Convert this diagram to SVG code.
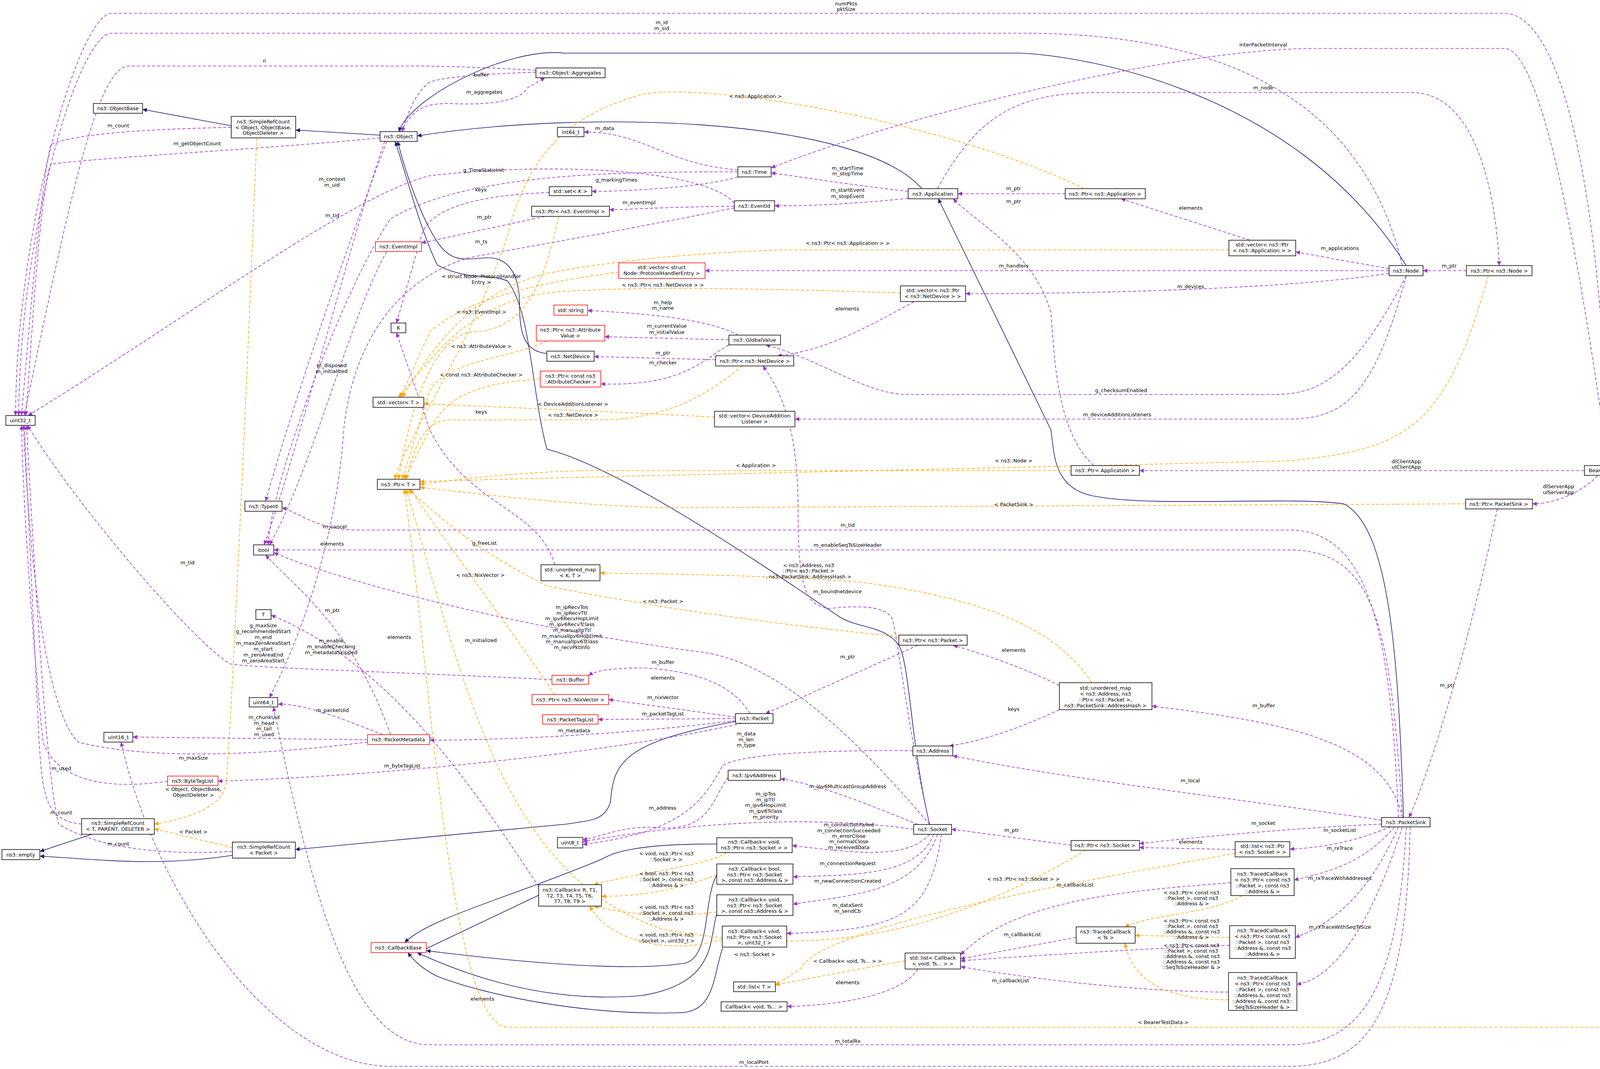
<svg xmlns="http://www.w3.org/2000/svg" width="4717" height="2737" viewBox="0 0 4717 2737">
<style>
text{font-family:"DejaVu Sans","Liberation Sans",sans-serif;font-size:13px;fill:#000}
.n rect{fill:#fff;stroke:#000;stroke-width:1.5}
.n.r rect{stroke:#f00}
.n.g rect{fill:#bfbfbf;stroke:#000}
.n text{text-anchor:middle}
.l text{text-anchor:middle}
.e{fill:none;stroke:#9a32cd;stroke-width:1.6;stroke-dasharray:8,5}
.o{fill:none;stroke:#ffa500;stroke-width:1.6;stroke-dasharray:8,5}
.s{fill:none;stroke:#191970;stroke-width:1.6}
</style>
<defs>
<marker id="mp" viewBox="0 0 10 10" refX="10" refY="5" markerWidth="11" markerHeight="11" markerUnits="userSpaceOnUse" orient="auto"><path d="M0,0L10,5L0,10z" fill="#9a32cd"/></marker>
<marker id="mo" viewBox="0 0 10 10" refX="10" refY="5" markerWidth="11" markerHeight="11" markerUnits="userSpaceOnUse" orient="auto"><path d="M0,0L10,5L0,10z" fill="#ffa500"/></marker>
<marker id="ms" viewBox="0 0 10 10" refX="10" refY="5" markerWidth="11" markerHeight="11" markerUnits="userSpaceOnUse" orient="auto"><path d="M0,0L10,5L0,10z" fill="#191970"/></marker>
</defs>
<rect width="4717" height="2737" fill="#fff"/>
<g id="edges">
<g marker-end="url(#ms)">
<path class="s" d="M592,322L365,280"/>
<path class="s" d="M973,346L757,333"/>
<path class="s" d="M2360,483C2200,300 1500,280 1068,348"/>
<path class="s" d="M3600,680C3300,200 2700,136 2604,136L1444,136C1300,120 1050,250 1021,337"/>
<path class="s" d="M1400,905C1340,900 1330,850 1330,780C1330,700 1300,660 1250,660C1200,660 1160,680 1120,620C1080,560 1040,450 1018,362"/>
<path class="s" d="M2380,2111C2330,1900 2330,1700 2300,1650C2260,1600 2200,1610 2150,1580C2000,1480 1600,1200 1400,1150C1360,1000 1360,800 1300,720C1260,700 1200,720 1120,679C1080,600 1040,450 1012,362"/>
<path class="s" d="M3593,2093C3580,1700 3560,1350 3440,1290C3300,1270 2950,1300 2800,1270C2690,1250 2700,1150 2690,1100L2402,509"/>
<path class="s" d="M1883,1847C1600,1900 1570,1950 1563,2052C1550,2100 1515,2100 1450,2110L756,2175"/>
<path class="s" d="M595,2190C400,2220 250,2200 102,2192"/>
<path class="s" d="M235,2136L102,2180"/>
<path class="s" d="M1379,2292L1070,2439"/>
<path class="s" d="M1835,2161C1600,2160 1560,2190 1540,2200C1300,2300 1100,2350 1036,2413"/>
<path class="s" d="M1835,2240C1800,2300 1820,2450 1754,2466C1600,2490 1300,2460 1091,2434"/>
<path class="s" d="M1835,2340C1815,2400 1840,2518 1642,2549C1400,2570 1200,2500 1068,2439"/>
<path class="s" d="M1850,2427C1825,2500 1830,2593 1738,2593C1500,2600 1250,2550 1120,2500C1080,2480 1060,2460 1044,2439"/>
</g>
<g marker-end="url(#mp)">
<path class="e" d="M1372,185C1200,190 1130,200 1100,210C1060,240 1040,300 1030,337"/>
<path class="e" d="M1025,337C1060,280 1080,265 1150,265C1250,270 1330,260 1350,225L1395,199"/>
<path class="e" d="M1372,180C1200,170 1100,169 1040,169L330,169C250,169 180,500 62,1064"/>
<path class="e" d="M592,326C400,330 200,340 130,370C100,500 70,900 55,1064"/>
<path class="e" d="M973,353C700,380 300,400 130,420C100,500 80,900 66,1064"/>
<path class="e" d="M1880,520C1800,430 1400,415 1100,450C900,500 500,800 72,1064"/>
<path class="e" d="M1889,440C1600,440 1200,440 1000,560C900,700 700,1200 686,1395"/>
<path class="e" d="M1406,493C1200,500 1100,540 1080,600L1015,827"/>
<path class="e" d="M1395,554L1079,622"/>
<path class="e" d="M1880,532C1600,590 1300,640 1200,660C1000,720 900,900 880,1100C860,1400 760,1650 690,1786"/>
<path class="e" d="M990,362C900,600 760,1000 680,1283"/>
<path class="e" d="M985,362C900,600 750,1200 676,1395"/>
<path class="e" d="M1889,435C1700,420 1650,338 1495,338"/>
<path class="e" d="M1889,453C1800,480 1600,490 1515,490"/>
<path class="e" d="M1880,528C1700,530 1600,537 1560,537"/>
<path class="e" d="M2325,490C2150,470 2000,445 1974,443"/>
<path class="e" d="M2325,508C2200,520 2100,527 1983,527"/>
<path class="e" d="M2727,496L2452,496"/>
<path class="e" d="M2800,1192C2700,1100 2700,900 2690,800C2650,650 2500,570 2440,509"/>
<path class="e" d="M3556,693L1805,693"/>
<path class="e" d="M3556,700C3300,740 2800,752 2472,752"/>
<path class="e" d="M2340,772C2200,850 2100,900 1990,911"/>
<path class="e" d="M1890,858C1800,810 1600,800 1504,795"/>
<path class="e" d="M1866,870L1548,862"/>
<path class="e" d="M1832,921L1521,913"/>
<path class="e" d="M1866,883C1800,920 1750,990 1538,983"/>
<path class="e" d="M3600,706C3450,1000 3350,1010 3250,1010L2310,1010C2200,1000 2100,920 1960,883"/>
<path class="e" d="M3600,706C3520,1000 3450,1073 3300,1073L2035,1073"/>
<path class="e" d="M2380,2111C2330,1900 2300,1650 2285,1587C2270,1550 2200,1550 2122,1558C2060,1550 2043,1500 2043,1300C2043,1100 2000,1000 1953,937"/>
<path class="e" d="M3556,688L3317,645"/>
<path class="e" d="M3200,615L2870,509"/>
<path class="e" d="M3754,693L3643,693"/>
<path class="e" d="M2400,483C2500,300 2600,237 2810,237L3614,237C3780,237 3830,500 3838,680"/>
<path class="e" d="M4117,1192C4050,700 3950,124 3851,124L3369,124C3000,124 2300,300 1974,430"/>
<path class="e" d="M4117,1192C4100,500 4000,34 3851,34L286,34C200,34 40,600 40,1064"/>
<path class="e" d="M3590,680C3500,300 3200,85 2617,85L286,85C200,85 50,600 48,1064"/>
<path class="e" d="M4056,1205L2917,1205"/>
<path class="e" d="M4090,1218C4050,1260 3980,1290 3923,1290"/>
<path class="e" d="M4300,2248C4250,1800 4150,1300 4130,1218"/>
<path class="e" d="M4615,2260L4511,2260"/>
<path class="e" d="M3833,1303C3750,1700 3650,2000 3607,2093"/>
<path class="e" d="M3590,2093C3550,1900 3300,1850 2949,1808"/>
<path class="e" d="M3537,2100C3200,2050 2700,1990 2439,1935"/>
<path class="e" d="M3537,2110C3300,2120 3000,2150 2917,2160"/>
<path class="e" d="M3560,2117C3480,2150 3400,2170 3302,2174"/>
<path class="e" d="M3162,2175L2917,2170"/>
<path class="e" d="M3570,2117C3500,2200 3420,2230 3313,2253"/>
<path class="e" d="M3580,2117C3500,2300 3400,2370 3316,2400"/>
<path class="e" d="M3590,2117C3500,2400 3400,2510 3320,2520"/>
<path class="e" d="M3151,2260C2900,2280 2600,2300 2459,2445"/>
<path class="e" d="M3148,2420C2900,2430 2600,2450 2459,2460"/>
<path class="e" d="M3145,2540C2900,2540 2600,2500 2459,2475"/>
<path class="e" d="M2755,2400L2459,2455"/>
<path class="e" d="M2350,2481C2300,2560 2100,2575 2015,2577"/>
<path class="e" d="M2742,2164L2436,2123"/>
<path class="e" d="M2380,2136C2320,2200 2200,2185 2028,2165"/>
<path class="e" d="M2390,2136C2350,2240 2200,2240 2030,2245"/>
<path class="e" d="M2400,2136C2350,2280 2200,2290 2030,2315"/>
<path class="e" d="M2410,2136C2380,2350 2300,2380 2014,2390"/>
<path class="e" d="M2350,2111C2200,2050 2100,2010 1998,1994"/>
<path class="e" d="M2339,2123C2100,2090 1800,2100 1492,2155"/>
<path class="e" d="M1864,1990C1820,2050 1820,2120 1700,2120C1600,2110 1550,2140 1492,2150"/>
<path class="e" d="M2337,1922C2100,1920 1900,1930 1850,1960C1800,2050 1750,2130 1492,2162"/>
<path class="e" d="M1920,1827C1880,1760 1800,1720 1650,1710C1550,1710 1520,1720 1507,1730"/>
<path class="e" d="M1883,1836L1558,1791"/>
<path class="e" d="M1883,1840L1531,1842"/>
<path class="e" d="M1883,1845C1600,1880 1300,1895 1100,1895"/>
<path class="e" d="M1900,1852C1500,1940 900,1990 558,2000"/>
<path class="e" d="M2350,1652L1960,1827"/>
<path class="e" d="M2712,1755C2600,1700 2500,1670 2440,1652"/>
<path class="e" d="M2712,1817C2600,1870 2500,1900 2430,1910"/>
<path class="e" d="M941,1894L340,1887"/>
<path class="e" d="M980,1881C900,1850 780,1800 712,1803"/>
<path class="e" d="M941,1900C700,1930 400,1950 200,1900C100,1800 70,1300 60,1089"/>
<path class="e" d="M429,2000C300,2020 150,2010 110,1900C80,1600 60,1300 55,1089"/>
<path class="e" d="M1000,1881C900,1600 750,1500 680,1421"/>
<path class="e" d="M1413,1740C1000,1720 650,1710 590,1700C500,1650 200,1300 70,1089"/>
<path class="e" d="M209,2110C120,2100 110,2050 100,1900L62,1089"/>
<path class="e" d="M595,2180C400,2190 250,2170 150,2110C120,2000 90,1500 68,1089"/>
<path class="e" d="M1420,1446C1380,1300 1200,1300 1100,1100L1015,852"/>
<path class="e" d="M3580,2093C3560,1600 3500,1357 3300,1357L900,1357C800,1350 760,1310 722,1300"/>
<path class="e" d="M3590,2093C3560,1600 3520,1408 3300,1408L701,1408"/>
<path class="e" d="M3600,2117C3580,2500 3500,2675 3300,2675L1100,2675C900,2675 800,2300 700,1810"/>
<path class="e" d="M3610,2117C3600,2600 3500,2730 3300,2730L1000,2730C700,2730 400,2300 310,1900"/>
<path class="e" d="M2380,2111C2200,1900 2000,1700 1800,1670C1400,1620 900,1500 701,1415"/>
<path class="e" d="M990,644C900,800 800,1200 690,1395"/>
<path class="e" d="M1379,2270C1200,2000 1000,1700 694,1575"/>
</g>
<g marker-end="url(#mo)">
<path class="o" d="M2775,483C2400,300 1750,200 1625,247C1450,300 1350,400 1300,600C1200,900 1050,1100 1010,1227"/>
<path class="o" d="M1430,554C1380,800 1300,850 1200,850C1100,880 1050,1050 1020,1227"/>
<path class="o" d="M3146,640L2000,640C1700,650 1500,680 1400,700C1200,750 1100,900 1030,1017"/>
<path class="o" d="M1584,697C1400,720 1200,760 1100,850L1025,1017"/>
<path class="o" d="M2305,750C2000,740 1600,730 1400,750C1200,780 1120,900 1020,1017"/>
<path class="o" d="M1400,873C1300,920 1150,920 1100,1000L1030,1227"/>
<path class="o" d="M1383,970C1250,980 1150,1000 1100,1100L1035,1227"/>
<path class="o" d="M1829,1068C1500,1050 1200,1040 1085,1033"/>
<path class="o" d="M1900,937C1800,1020 1700,1070 1550,1075L1150,1075C1080,1080 1060,1150 1040,1227"/>
<path class="o" d="M3810,706C3700,1100 3600,1150 3300,1180C2500,1200 1500,1220 1075,1233"/>
<path class="o" d="M2742,1205L1500,1205C1300,1210 1150,1230 1075,1240"/>
<path class="o" d="M3752,1290L1700,1300C1400,1290 1200,1260 1075,1248"/>
<path class="o" d="M2301,1630C2000,1600 1700,1560 1400,1500C1200,1400 1100,1300 1045,1253"/>
<path class="o" d="M2795,1748C2700,1600 2500,1530 2200,1490C1900,1470 1700,1470 1536,1467"/>
<path class="o" d="M1420,1778C1300,1600 1150,1400 1050,1253"/>
<path class="o" d="M2317,2460C2200,2480 2100,2500 1985,2522"/>
<path class="o" d="M3162,2185C2800,2250 2100,2370 2050,2480L1985,2522"/>
<path class="o" d="M2780,2177C2400,2400 2100,2450 1700,2380C1300,2250 1200,1800 1040,1253"/>
<path class="o" d="M1860,2183C1800,2220 1650,2230 1520,2265"/>
<path class="o" d="M1835,2240C1700,2290 1600,2295 1540,2295"/>
<path class="o" d="M1835,2335C1700,2350 1600,2340 1520,2320"/>
<path class="o" d="M1849,2405C1700,2450 1550,2400 1510,2320"/>
<path class="o" d="M657,353C640,800 600,1700 580,2000C570,2080 450,2100 395,2110"/>
<path class="o" d="M595,2170L395,2122"/>
<path class="o" d="M3180,2293C3100,2340 2950,2340 2880,2373"/>
<path class="o" d="M3148,2400L2906,2395"/>
<path class="o" d="M3145,2560C3000,2560 2900,2520 2880,2415"/>
<path class="o" d="M4400,2273C4350,2500 4300,2630 4150,2630L1300,2630C1150,2630 1100,1700 1035,1253"/>
</g>
<g class="l">
<text x="1232" y="196">buffer</text><text x="1240" y="240">m_aggregates</text><text x="677" y="160">n</text>
<text x="303" y="326">m_count</text><text x="505" y="372">m_getObjectCount</text>
<text x="850" y="463">m_context</text><text x="850" y="478">m_uid</text>
<text x="1238" y="440">g_TimeStaticInit</text><text x="1231" y="490">keys</text><text x="1240" y="560">m_ptr</text>
<text x="1232" y="623">m_ts</text><text x="851" y="556">m_tid</text>
<text x="849" y="940">m_disposed</text><text x="849" y="955">m_initialized</text>
<text x="1548" y="333">m_data</text><text x="1578" y="465">g_markingTimes</text><text x="1636" y="523">m_eventImpl</text>
<text x="2170" y="435">m_startTime</text><text x="2170" y="449">m_stopTime</text>
<text x="2170" y="491">m_startEvent</text><text x="2170" y="507">m_stopEvent</text>
<text x="2595" y="487">m_ptr</text><text x="2595" y="520">m_ptr</text><text x="2595" y="685">m_handlers</text>
<text x="3048" y="738">m_devices</text><text x="2169" y="795">elements</text>
<text x="1697" y="779">m_help</text><text x="1697" y="793">m_name</text>
<text x="1707" y="839">m_currentValue</text><text x="1707" y="855">m_initialValue</text>
<text x="1697" y="908">m_ptr</text><text x="1697" y="933">m_checker</text>
<text x="2870" y="1004">g_checksumEnabled</text><text x="2860" y="1066">m_deviceAdditionListeners</text>
<text x="2144" y="1519">m_boundnetdevice</text><text x="3430" y="640">m_applications</text><text x="3048" y="537">elements</text>
<text x="3710" y="685">m_ptr</text><text x="3234" y="229">m_node</text><text x="3234" y="119">interPacketInterval</text>
<text x="2166" y="14">numPkts</text><text x="2166" y="28">pktSize</text>
<text x="1694" y="62">m_id</text><text x="1694" y="77">m_sid</text>
<text x="3600" y="1186">dlClientApp</text><text x="3600" y="1200">ulClientApp</text>
<text x="3990" y="1250">dlServerApp</text><text x="3990" y="1265">ulServerApp</text>
<text x="4238" y="1443">elements</text><text x="4563" y="2254">bearers</text><text x="3705" y="1759">m_ptr</text>
<text x="3235" y="1811">m_buffer</text><text x="3047" y="2003">m_local</text><text x="3234" y="2112">m_socket</text>
<text x="3430" y="2130">m_socketList</text><text x="3048" y="2160">elements</text><text x="3430" y="2176">m_rxTrace</text>
<text x="3430" y="2253">m_rxTraceWithAddresses</text><text x="3430" y="2378">m_rxTraceWithSeqTsSize</text>
<text x="2752" y="2270">m_callbackList</text><text x="2617" y="2397">m_callbackList</text><text x="2587" y="2515">m_callbackList</text>
<text x="2170" y="2520">elements</text><text x="2590" y="2130">m_ptr</text>
<text x="2173" y="2116">m_connectionFailed</text><text x="2173" y="2131">m_connectionSucceeded</text><text x="2173" y="2145">m_errorClose</text><text x="2173" y="2159">m_normalClose</text><text x="2173" y="2174">m_receivedData</text>
<text x="2170" y="2215">m_connectionRequest</text><text x="2170" y="2260">m_newConnectionCreated</text>
<text x="2170" y="2322">m_dataSent</text><text x="2170" y="2337">m_sendCb</text>
<text x="2170" y="2018">m_ipv6MulticastGroupAddress</text>
<text x="1960" y="2037">m_ipTos</text><text x="1960" y="2052">m_ipTtl</text><text x="1960" y="2066">m_ipv6HopLimit</text><text x="1960" y="2081">m_ipv6Tclass</text><text x="1960" y="2096">m_priority</text>
<text x="1696" y="2073">m_address</text>
<text x="1910" y="1883">m_data</text><text x="1910" y="1898">m_len</text><text x="1910" y="1912">m_type</text>
<text x="1697" y="1700">m_buffer</text><text x="1697" y="1740">elements</text><text x="1697" y="1790">m_nixVector</text><text x="1697" y="1832">m_packetTagList</text>
<text x="1470" y="1875">m_metadata</text><text x="1030" y="1965">m_byteTagList</text><text x="2170" y="1686">m_ptr</text>
<text x="2595" y="1669">elements</text><text x="2595" y="1820">keys</text>
<text x="676" y="1841">m_chunkUid</text><text x="676" y="1856">m_head</text><text x="676" y="1870">m_tail</text><text x="676" y="1885">m_used</text>
<text x="851" y="1823">m_packetUid</text><text x="495" y="1945">m_maxSize</text><text x="157" y="1972">m_used</text>
<text x="848" y="1645">m_enable</text><text x="848" y="1660">m_enableChecking</text><text x="848" y="1675">m_metadataSkipped</text>
<text x="674" y="1606">g_maxSize</text><text x="674" y="1621">g_recommendedStart</text><text x="674" y="1636">m_end</text><text x="674" y="1651">m_maxZeroAreaStart</text><text x="674" y="1666">m_start</text><text x="674" y="1681">m_zeroAreaEnd</text><text x="674" y="1696">m_zeroAreaStart</text>
<text x="157" y="2085">m_count</text><text x="303" y="2165">m_count</text><text x="1232" y="1059">keys</text>
<text x="2170" y="1349">m_tid</text><text x="2170" y="1400">m_enableSeqTsSizeHeader</text><text x="480" y="1445">m_tid</text>
<text x="2170" y="2670">m_totalRx</text><text x="1930" y="2724">m_localPort</text>
<text x="1464" y="1559">m_ipRecvTos</text><text x="1464" y="1574">m_ipRecvTtl</text><text x="1464" y="1588">m_ipv6RecvHopLimit</text><text x="1464" y="1603">m_ipv6RecvTclass</text><text x="1464" y="1618">m_manualIpTtl</text><text x="1464" y="1633">m_manualIpv6HopLimit</text><text x="1464" y="1647">m_manualIpv6Tclass</text><text x="1464" y="1662">m_recvPktInfo</text>
<text x="857" y="1353">m_cancel</text><text x="850" y="1397">elements</text><text x="851" y="1567">m_ptr</text><text x="1231" y="1644">m_initialized</text><text x="1022" y="1636">elements</text><text x="1240" y="1395">g_freeList</text><text x="1235" y="2562">elements</text>
<text x="1934" y="251">&lt; ns3::Application &gt;</text><text x="1232" y="803">&lt; ns3::EventImpl &gt;</text>
<text x="2170" y="627">&lt; ns3::Ptr&lt; ns3::Application &gt; &gt;</text>
<text x="1232" y="712">&lt; struct Node::ProtocolHandler</text><text x="1232" y="727">Entry &gt;</text>
<text x="1697" y="734">&lt; ns3::Ptr&lt; ns3::NetDevice &gt; &gt;</text><text x="1232" y="891">&lt; ns3::AttributeValue &gt;</text>
<text x="1232" y="964">&lt; const ns3::AttributeChecker &gt;</text><text x="1467" y="1039">&lt; DeviceAdditionListener &gt;</text>
<text x="1467" y="1067">&lt; ns3::NetDevice &gt;</text><text x="2595" y="1184">&lt; ns3::Node &gt;</text><text x="1935" y="1196">&lt; Application &gt;</text>
<text x="2595" y="1296">&lt; PacketSink &gt;</text><text x="1697" y="1544">&lt; ns3::Packet &gt;</text>
<text x="2070" y="1452">&lt; ns3::Address, ns3</text><text x="2070" y="1466">::Ptr&lt; ns3::Packet &gt;</text><text x="2070" y="1481">, ns3::PacketSink::AddressHash &gt;</text>
<text x="1230" y="1477">&lt; ns3::NixVector &gt;</text><text x="2170" y="2465">&lt; Callback&lt; void, Ts... &gt; &gt;</text>
<text x="2620" y="2255">&lt; ns3::Ptr&lt; ns3::Socket &gt; &gt;</text><text x="1932" y="2448">&lt; ns3::Socket &gt;</text>
<text x="1706" y="2190">&lt; void, ns3::Ptr&lt; ns3</text><text x="1706" y="2205">::Socket &gt; &gt;</text>
<text x="1706" y="2241">&lt; bool, ns3::Ptr&lt; ns3</text><text x="1706" y="2256">::Socket &gt;, const ns3</text><text x="1706" y="2271">::Address &amp; &gt;</text>
<text x="1706" y="2327">&lt; void, ns3::Ptr&lt; ns3</text><text x="1706" y="2342">::Socket &gt;, const ns3</text><text x="1706" y="2357">::Address &amp; &gt;</text>
<text x="1706" y="2398">&lt; void, ns3::Ptr&lt; ns3</text><text x="1706" y="2413">::Socket &gt;, uint32_t &gt;</text>
<text x="495" y="2025">&lt; Object, ObjectBase,</text><text x="495" y="2040">ObjectDeleter &gt;</text><text x="495" y="2134">&lt; Packet &gt;</text>
<text x="3050" y="2290">&lt; ns3::Ptr&lt; const ns3</text><text x="3050" y="2304">::Packet &gt;, const ns3</text><text x="3050" y="2318">::Address &amp; &gt;</text>
<text x="3050" y="2362">&lt; ns3::Ptr&lt; const ns3</text><text x="3050" y="2376">::Packet &gt;, const ns3</text><text x="3050" y="2390">::Address &amp;, const ns3</text><text x="3050" y="2404">::Address &amp; &gt;</text>
<text x="3050" y="2425">&lt; ns3::Ptr&lt; const ns3</text><text x="3050" y="2439">::Packet &gt;, const ns3</text><text x="3050" y="2453">::Address &amp;, const ns3</text><text x="3050" y="2467">::Address &amp;, const ns3</text><text x="3050" y="2481">::SeqTsSizeHeader &amp; &gt;</text>
<text x="2978" y="2622">&lt; BearerTestData &gt;</text>
</g>
</g>
<g id="n1" class="n"><rect x="239" y="265" width="126" height="25"/><text x="302" y="282">ns3::ObjectBase</text></g>
<g id="n2" class="n"><rect x="592" y="298" width="165" height="55"/><text x="674" y="316">ns3::SimpleRefCount<tspan x="674" dy="14.5">&lt; Object, ObjectBase,</tspan><tspan x="674" dy="14.5">ObjectDeleter &gt;</tspan></text></g>
<g id="n3" class="n"><rect x="973" y="337" width="95" height="25"/><text x="1020" y="354">ns3::Object</text></g>
<g id="n4" class="n"><rect x="1372" y="174" width="177" height="25"/><text x="1460" y="191">ns3::Object::Aggregates</text></g>
<g id="n5" class="n"><rect x="1427" y="326" width="68" height="24"/><text x="1461" y="343">int64_t</text></g>
<g id="n6" class="n"><rect x="1889" y="427" width="85" height="26"/><text x="1931" y="445">ns3::Time</text></g>
<g id="n7" class="n"><rect x="1406" y="478" width="109" height="23"/><text x="1460" y="494">std::set&lt; K &gt;</text></g>
<g id="n8" class="n"><rect x="1361" y="528" width="199" height="26"/><text x="1460" y="546">ns3::Ptr&lt; ns3::EventImpl &gt;</text></g>
<g id="n9" class="n"><rect x="1880" y="514" width="103" height="26"/><text x="1931" y="532">ns3::EventId</text></g>
<g id="n10" class="n"><rect x="2325" y="483" width="127" height="26"/><text x="2388" y="501">ns3::Application</text></g>
<g id="n11" class="n"><rect x="2727" y="483" width="205" height="26"/><text x="2829" y="501">ns3::Ptr&lt; ns3::Application &gt;</text></g>
<g id="n12" class="n r"><rect x="961" y="619" width="118" height="25"/><text x="1020" y="636">ns3::EventImpl</text></g>
<g id="n13" class="n r"><rect x="1584" y="673" width="221" height="40"/><text x="1694" y="689">std::vector&lt; struct<tspan x="1694" dy="14.5">Node::ProtocolHandlerEntry &gt;</tspan></text></g>
<g id="n14" class="n"><rect x="3146" y="615" width="171" height="40"/><text x="3231" y="631">std::vector&lt; ns3::Ptr<tspan x="3231" dy="14.5">&lt; ns3::Application &gt; &gt;</tspan></text></g>
<g id="n15" class="n"><rect x="3556" y="680" width="87" height="26"/><text x="3599" y="698">ns3::Node</text></g>
<g id="n16" class="n"><rect x="3754" y="680" width="168" height="26"/><text x="3838" y="698">ns3::Ptr&lt; ns3::Node &gt;</text></g>
<g id="n17" class="n"><rect x="2305" y="732" width="167" height="40"/><text x="2388" y="748">std::vector&lt; ns3::Ptr<tspan x="2388" dy="14.5">&lt; ns3::NetDevice &gt; &gt;</tspan></text></g>
<g id="n18" class="n r"><rect x="1418" y="781" width="86" height="26"/><text x="1461" y="799">std::string</text></g>
<g id="n19" class="n"><rect x="1001" y="827" width="38" height="25"/><text x="1020" y="844">K</text></g>
<g id="n20" class="n r"><rect x="1373" y="833" width="175" height="40"/><text x="1460" y="849">ns3::Ptr&lt; ns3::Attribute<tspan x="1460" dy="14.5">Value &gt;</tspan></text></g>
<g id="n21" class="n"><rect x="1866" y="858" width="132" height="25"/><text x="1932" y="875">ns3::GlobalValue</text></g>
<g id="n22" class="n"><rect x="1400" y="899" width="121" height="26"/><text x="1460" y="917">ns3::NetDevice</text></g>
<g id="n23" class="n"><rect x="1832" y="911" width="200" height="26"/><text x="1932" y="929">ns3::Ptr&lt; ns3::NetDevice &gt;</text></g>
<g id="n24" class="n r"><rect x="1383" y="950" width="155" height="41"/><text x="1460" y="967">ns3::Ptr&lt; const ns3<tspan x="1460" dy="14.5">::AttributeChecker &gt;</tspan></text></g>
<g id="n25" class="n"><rect x="955" y="1017" width="130" height="26"/><text x="1020" y="1035">std::vector&lt; T &gt;</text></g>
<g id="n26" class="n"><rect x="1829" y="1053" width="206" height="40"/><text x="1932" y="1069">std::vector&lt; DeviceAddition<tspan x="1932" dy="14.5">Listener &gt;</tspan></text></g>
<g id="n27" class="n"><rect x="15" y="1064" width="75" height="25"/><text x="52" y="1081">uint32_t</text></g>
<g id="n28" class="n"><rect x="2742" y="1192" width="175" height="25"/><text x="2829" y="1209">ns3::Ptr&lt; Application &gt;</text></g>
<g id="n29" class="n"><rect x="4056" y="1192" width="122" height="25"/><text x="4117" y="1209">BearerTestData</text></g>
<g id="n30" class="n"><rect x="966" y="1227" width="109" height="26"/><text x="1020" y="1245">ns3::Ptr&lt; T &gt;</text></g>
<g id="n31" class="n"><rect x="627" y="1283" width="95" height="26"/><text x="674" y="1301">ns3::TypeId</text></g>
<g id="n32" class="n"><rect x="3752" y="1278" width="171" height="25"/><text x="3837" y="1295">ns3::Ptr&lt; PacketSink &gt;</text></g>
<g id="n33" class="n"><rect x="649" y="1395" width="52" height="26"/><text x="675" y="1413">bool</text></g>
<g id="n34" class="n"><rect x="1385" y="1446" width="151" height="41"/><text x="1460" y="1463">std::unordered_map<tspan x="1460" dy="14.5">&lt; K, T &gt;</tspan></text></g>
<g id="n35" class="n"><rect x="655" y="1561" width="39" height="25"/><text x="674" y="1578">T</text></g>
<g id="n36" class="n"><rect x="2301" y="1626" width="175" height="26"/><text x="2388" y="1644">ns3::Ptr&lt; ns3::Packet &gt;</text></g>
<g id="n37" class="n r"><rect x="1413" y="1729" width="94" height="23"/><text x="1460" y="1745">ns3::Buffer</text></g>
<g id="n38" class="n"><rect x="2712" y="1748" width="237" height="69"/><text x="2830" y="1766">std::unordered_map<tspan x="2830" dy="15">&lt; ns3::Address, ns3</tspan><tspan x="2830" dy="15">::Ptr&lt; ns3::Packet &gt;,</tspan><tspan x="2830" dy="15">ns3::PacketSink::AddressHash &gt;</tspan></text></g>
<g id="n39" class="n r"><rect x="1362" y="1778" width="196" height="26"/><text x="1460" y="1796">ns3::Ptr&lt; ns3::NixVector &gt;</text></g>
<g id="n40" class="n"><rect x="638" y="1786" width="73" height="24"/><text x="674" y="1803">uint64_t</text></g>
<g id="n41" class="n"><rect x="1883" y="1827" width="96" height="25"/><text x="1931" y="1844">ns3::Packet</text></g>
<g id="n42" class="n r"><rect x="1389" y="1830" width="142" height="24"/><text x="1460" y="1847">ns3::PacketTagList</text></g>
<g id="n43" class="n"><rect x="266" y="1875" width="74" height="25"/><text x="303" y="1892">uint16_t</text></g>
<g id="n44" class="n r"><rect x="941" y="1881" width="159" height="25"/><text x="1020" y="1898">ns3::PacketMetadata</text></g>
<g id="n45" class="n"><rect x="2337" y="1910" width="102" height="25"/><text x="2388" y="1927">ns3::Address</text></g>
<g id="n46" class="n"><rect x="1864" y="1972" width="134" height="26"/><text x="1931" y="1990">ns3::Ipv6Address</text></g>
<g id="n47" class="n r"><rect x="429" y="1987" width="129" height="24"/><text x="493" y="2004">ns3::ByteTagList</text></g>
<g id="n48" class="n"><rect x="3537" y="2093" width="124" height="24"/><text x="3599" y="2110">ns3::PacketSink</text></g>
<g id="n49" class="n"><rect x="209" y="2096" width="186" height="40"/><text x="302" y="2112">ns3::SimpleRefCount<tspan x="302" dy="14.5">&lt; T, PARENT, DELETER &gt;</tspan></text></g>
<g id="n50" class="n"><rect x="2339" y="2111" width="97" height="25"/><text x="2387" y="2128">ns3::Socket</text></g>
<g id="n51" class="n"><rect x="1427" y="2144" width="65" height="27"/><text x="1459" y="2162">uint8_t</text></g>
<g id="n52" class="n"><rect x="1835" y="2145" width="193" height="38"/><text x="1931" y="2160">ns3::Callback&lt; void,<tspan x="1931" dy="14.5">ns3::Ptr&lt; ns3::Socket &gt; &gt;</tspan></text></g>
<g id="n53" class="n"><rect x="2742" y="2152" width="175" height="25"/><text x="2829" y="2169">ns3::Ptr&lt; ns3::Socket &gt;</text></g>
<g id="n54" class="n"><rect x="3162" y="2155" width="140" height="39"/><text x="3232" y="2171">std::list&lt; ns3::Ptr<tspan x="3232" dy="14.5">&lt; ns3::Socket &gt; &gt;</tspan></text></g>
<g id="n55" class="n"><rect x="595" y="2156" width="161" height="41"/><text x="675" y="2173">ns3::SimpleRefCount<tspan x="675" dy="14.5">&lt; Packet &gt;</tspan></text></g>
<g id="n56" class="n"><rect x="5" y="2175" width="97" height="26"/><text x="53" y="2193">ns3::empty</text></g>
<g id="n57" class="n"><rect x="1835" y="2212" width="195" height="52"/><text x="1932" y="2229">ns3::Callback&lt; bool,<tspan x="1932" dy="14.5">ns3::Ptr&lt; ns3::Socket</tspan><tspan x="1932" dy="14.5">&gt;, const ns3::Address &amp; &gt;</tspan></text></g>
<g id="n58" class="n"><rect x="3151" y="2224" width="162" height="69"/><text x="3232" y="2242">ns3::TracedCallback<tspan x="3232" dy="15">&lt; ns3::Ptr&lt; const ns3</tspan><tspan x="3232" dy="15">::Packet &gt;, const ns3</tspan><tspan x="3232" dy="15">::Address &amp; &gt;</tspan></text></g>
<g id="n59" class="n"><rect x="4291" y="2248" width="220" height="25"/><text x="4401" y="2265">std::vector&lt; BearerTestData &gt;</text></g>
<g id="n60" class="n g"><rect x="4615" y="2248" width="96" height="25"/><text x="4663" y="2265">UeTestData</text></g>
<g id="n61" class="n"><rect x="1379" y="2265" width="161" height="55"/><text x="1459" y="2283">ns3::Callback&lt; R, T1,<tspan x="1459" dy="14.5">T2, T3, T4, T5, T6,</tspan><tspan x="1459" dy="14.5">T7, T8, T9 &gt;</tspan></text></g>
<g id="n62" class="n"><rect x="1835" y="2291" width="195" height="53"/><text x="1932" y="2308">ns3::Callback&lt; void,<tspan x="1932" dy="14.5">ns3::Ptr&lt; ns3::Socket</tspan><tspan x="1932" dy="14.5">&gt;, const ns3::Address &amp; &gt;</tspan></text></g>
<g id="n63" class="n"><rect x="2755" y="2373" width="151" height="42"/><text x="2830" y="2390">ns3::TracedCallback<tspan x="2830" dy="14.5">&lt; Ts &gt;</tspan></text></g>
<g id="n64" class="n"><rect x="3148" y="2370" width="168" height="84"/><text x="3232" y="2387">ns3::TracedCallback<tspan x="3232" dy="15">&lt; ns3::Ptr&lt; const ns3</tspan><tspan x="3232" dy="15">::Packet &gt;, const ns3</tspan><tspan x="3232" dy="15">::Address &amp;, const ns3</tspan><tspan x="3232" dy="15">::Address &amp; &gt;</tspan></text></g>
<g id="n65" class="n"><rect x="1849" y="2371" width="165" height="54"/><text x="1931" y="2389">ns3::Callback&lt; void,<tspan x="1931" dy="14.5">ns3::Ptr&lt; ns3::Socket</tspan><tspan x="1931" dy="14.5">&gt;, uint32_t &gt;</tspan></text></g>
<g id="n66" class="n r"><rect x="950" y="2413" width="141" height="26"/><text x="1020" y="2431">ns3::CallbackBase</text></g>
<g id="n67" class="n"><rect x="2317" y="2440" width="142" height="41"/><text x="2388" y="2457">std::list&lt; Callback<tspan x="2388" dy="14.5">&lt; void, Ts... &gt; &gt;</tspan></text></g>
<g id="n68" class="n"><rect x="3145" y="2490" width="175" height="97"/><text x="3232" y="2508">ns3::TracedCallback<tspan x="3232" dy="15">&lt; ns3::Ptr&lt; const ns3</tspan><tspan x="3232" dy="15">::Packet &gt;, const ns3</tspan><tspan x="3232" dy="15">::Address &amp;, const ns3</tspan><tspan x="3232" dy="15">::Address &amp;, const ns3::</tspan><tspan x="3232" dy="15">SeqTsSizeHeader &amp; &gt;</tspan></text></g>
<g id="n69" class="n"><rect x="1878" y="2514" width="107" height="25"/><text x="1931" y="2531">std::list&lt; T &gt;</text></g>
<g id="n70" class="n"><rect x="1846" y="2565" width="169" height="24"/><text x="1930" y="2582">Callback&lt; void, Ts... &gt;</text></g>
</svg>
